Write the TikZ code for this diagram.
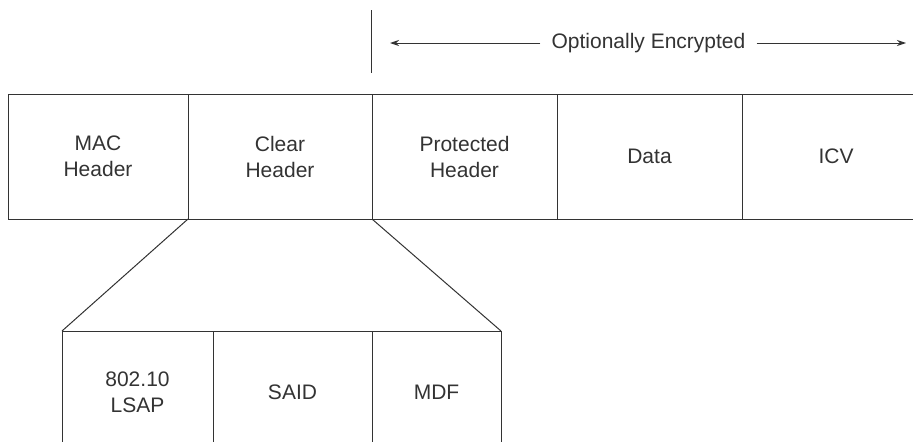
\documentclass[tikz,border=0pt]{standalone}
\usepackage{fontspec}
\setmainfont{Liberation Sans}
\usepackage{tikz}
\usepackage{xcolor}
\usetikzlibrary{arrows.meta, positioning}
\definecolor{inkdark}{HTML}{333333}
\tikzset{
  % Frame fields
  field/.style={
    draw=inkdark, minimum height=125pt, minimum width=#1,
    font=\fontsize{21}{26}\selectfont, text=inkdark, align=center,
    inner sep=0pt, outer sep=0pt, line width=1pt,
  },
  % Sub-fields, open at the bottom
  subfield/.style={
    field=#1, draw=none, minimum height=122pt,
  },
  rule/.style={draw=inkdark, line width=1pt},
  arr/.style={-{Stealth[length=9pt, width=6pt]}, line width=1pt, inkdark},
  lbl/.style={font=\fontsize{21}{26}\selectfont, text=inkdark, inner sep=11pt},
}
\begin{document}
\begin{tikzpicture}[x=1pt, y=-1pt]
  \useasboundingbox[fill=white] (0,0) rectangle (913,442);
  \coordinate (edge) at (913,0);
  \coordinate (base) at (0,442);

  % Frame
  \node[field=180pt] (mac) at (98,156.5) {MAC\\Header};
  \node[field=184pt, right=0pt of mac] (clear) {Clear\\Header};
  \node[field=185pt, right=0pt of clear] (prot) {Protected\\Header};
  \node[field=185pt, right=0pt of prot] (data) {Data};
  \node[field=188pt, draw=none, right=0pt of data] (icv) {ICV};
  \draw[rule] (icv.north west) -- (icv.north west -| edge);
  \draw[rule] (icv.south west) -- (icv.south west -| edge);

  % Encrypted span
  \coordinate (tickT) at (371,10);
  \coordinate (tickB) at (371,73);
  \draw[rule] (tickT) -- (tickB);
  \node[lbl] (enc) at (648.5,43) {Optionally Encrypted};
  \coordinate (encL) at (390,43);
  \coordinate (encR) at (906,43);
  \draw[arr] (enc.west) -- (encL);
  \draw[arr] (enc.east) -- (encR);

  % Clear header breakdown
  \node[subfield=151pt] (lsap) at (137.5,392) {802.10\\LSAP};
  \node[subfield=159pt, right=0pt of lsap] (said) {SAID};
  \node[subfield=129pt, right=0pt of said] (mdf) {MDF};
  \draw[rule] (lsap.north west) -- (mdf.north east);
  \foreach \a in {lsap.north west, said.north west, mdf.north west, mdf.north east}
    \draw[rule] (\a) -- (\a |- base);
  \draw[rule] (mac.south east) -- (lsap.north west);
  \draw[rule] (clear.south east) -- (mdf.north east);
\end{tikzpicture}
\end{document}
